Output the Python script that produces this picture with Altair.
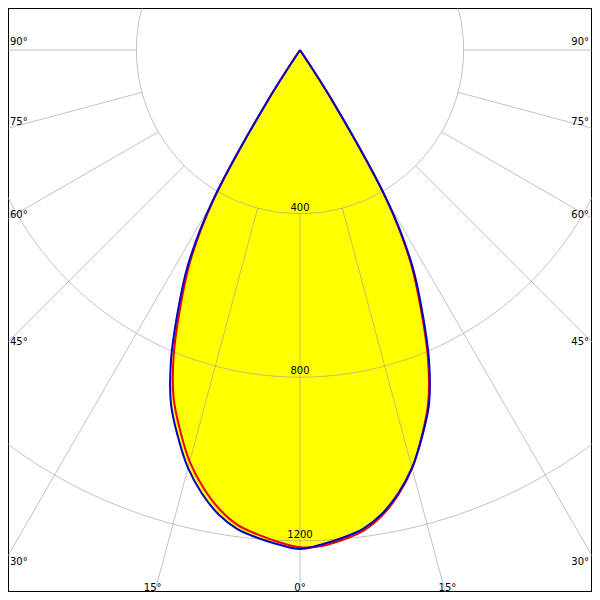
import altair as alt
import numpy as np
import pandas as pd

# ---------------- data ----------------
angles = [0, 2.5, 5, 7.5, 10, 12.5, 15, 17.5, 20, 22.5, 25, 27.5, 30, 32.5, 35,
          40, 45, 50, 55, 60, 65, 70, 75, 80, 85, 90]
# blue curve (C0 / C180), cd
blue_right = [1220, 1210, 1197, 1181, 1152, 1110, 1058, 992, 922, 825, 708, 594, 433, 152, 0,
              0, 0, 0, 0, 0, 0, 0, 0, 0, 0, 0]
blue_left = [1220, 1210, 1197, 1181, 1152, 1110, 1058, 992, 922, 825, 708, 594, 433, 152, 0,
             0, 0, 0, 0, 0, 0, 0, 0, 0, 0, 0]
# red curve (C90 / C270), cd
red_right = [1223, 1214, 1202, 1186, 1156, 1113, 1059, 990, 917, 818, 700, 586, 426, 147, 0,
             0, 0, 0, 0, 0, 0, 0, 0, 0, 0, 0]
red_left = [1216, 1204, 1189, 1171, 1139, 1095, 1042, 975, 904, 807, 692, 580, 421, 144, 0,
            0, 0, 0, 0, 0, 0, 0, 0, 0, 0, 0]

ring_values = [400, 800, 1200]
spoke_angles = [-90, -75, -60, -45, -30, -15, 0, 15, 30, 45, 60, 75, 90]
side_label_angles = [90, 75, 60, 45, 30]
bottom_label_angles = [-15, 0, 15]

# ---------------- geometry ----------------
K = 0.409              # px per cd
CX, CY = 300.0, 50.0   # pole position in picture pixels
OFF = 8.0              # page margin
W = H = 584

def px_to_x(px):
    return (px - CX) / K

def px_to_y(py):
    return -(py - CY) / K

xs = alt.Scale(domain=[px_to_x(OFF), px_to_x(OFF + W)], nice=False, zero=False)
ys = alt.Scale(domain=[px_to_y(OFF + H), px_to_y(OFF)], nice=False, zero=False)

def X(field="X"):
    return alt.X(f"{field}:Q", scale=xs, axis=None, stack=None)

def Y(field="Y"):
    return alt.Y(f"{field}:Q", scale=ys, axis=None, stack=None)

# curve rows
curve_rows = []
for series, left, right in [("blue", blue_left, blue_right), ("red", red_left, red_right)]:
    i = 0
    for a, v in reversed(list(zip(angles, left))):
        t = np.radians(a)
        curve_rows.append({"series": series, "i": i,
                           "X": -v * np.sin(t), "Y": -v * np.cos(t)})
        i += 1
    for a, v in zip(angles[1:], right[1:]):
        t = np.radians(a)
        curve_rows.append({"series": series, "i": i,
                           "X": v * np.sin(t), "Y": -v * np.cos(t)})
        i += 1
curves = pd.DataFrame(curve_rows)

# fill (union of both curves, each half to the vertical axis)
fill_layers = []
for arr, sgn in [(blue_left, -1), (blue_right, 1), (red_left, -1), (red_right, 1)]:
    rows = []
    for a, v in zip(angles, arr):
        t = np.radians(a)
        rows.append({"X": sgn * v * np.sin(t), "Y": -v * np.cos(t), "X0": 0.0})
    fill_layers.append(
        alt.Chart(pd.DataFrame(rows)).mark_area(
            orient="horizontal", color="#ffff00", opacity=1,
            interpolate="catmull-rom").encode(
            y=Y(), x=X(), x2=alt.X2("X0:Q")))

# rings
ring_rows = []
for r in ring_values:
    for j, a in enumerate(np.arange(0, 361, 2)):
        t = np.radians(a)
        ring_rows.append({"ring": r, "j": j, "X": r * np.sin(t), "Y": -r * np.cos(t)})
rings = alt.Chart(pd.DataFrame(ring_rows)).mark_line(
    color="#999999", strokeWidth=1, opacity=0.6, clip=True).encode(
    x=X(), y=Y(), detail="ring:N", order=alt.Order("j:Q"))

# spokes
spoke_rows = []
for a in spoke_angles:
    t = np.radians(a)
    r0, r1 = ring_values[0], 4000
    spoke_rows.append({"X": r0 * np.sin(t), "Y": -r0 * np.cos(t),
                       "X2": r1 * np.sin(t), "Y2": -r1 * np.cos(t)})
spokes = alt.Chart(pd.DataFrame(spoke_rows)).mark_rule(
    color="#999999", strokeWidth=1, opacity=0.6, clip=True).encode(
    x=X(), y=Y(), x2=alt.X2("X2:Q"), y2=alt.Y2("Y2:Q"))

# ring labels
ring_lab = alt.Chart(pd.DataFrame({"X": [0.0] * 3, "Y": [-r for r in ring_values],
                                   "t": [str(r) for r in ring_values]})).mark_text(
    font="DejaVu Sans", fontSize=10, color="black", align="center",
    baseline="alphabetic", dy=-3).encode(x=X(), y=Y(), text="t:N")

# angle labels
lab_rows = []
for a in side_label_angles:
    t = np.radians(a)
    yline = CY + CX * np.cos(t) / np.sin(t)
    lab_rows.append({"X": px_to_x(10), "Y": px_to_y(yline - 8), "t": f"{a}°", "al": "left"})
    lab_rows.append({"X": px_to_x(589), "Y": px_to_y(yline - 8), "t": f"{a}°", "al": "right"})
for a in bottom_label_angles:
    t = np.radians(a)
    xline = CX + (600 - CY) * np.tan(t)
    lab_rows.append({"X": px_to_x(xline), "Y": px_to_y(588), "t": f"{abs(a)}°", "al": "center"})
labs = pd.DataFrame(lab_rows)
lab_layers = []
for al in ["left", "right", "center"]:
    lab_layers.append(alt.Chart(labs[labs["al"] == al]).mark_text(
        font="DejaVu Sans", fontSize=10, color="black", align=al, baseline="middle").encode(
        x=X(), y=Y(), text="t:N"))

# curve outlines
red_line = alt.Chart(curves[curves["series"] == "red"]).mark_line(
    color="#ee0000", strokeWidth=2, strokeJoin="round", interpolate="catmull-rom").encode(
    x=X(), y=Y(), order=alt.Order("i:Q"))
blue_line = alt.Chart(curves[curves["series"] == "blue"]).mark_line(
    color="#0000cc", strokeWidth=2, strokeJoin="round", interpolate="catmull-rom").encode(
    x=X(), y=Y(), order=alt.Order("i:Q"))

chart = alt.layer(*fill_layers, rings, spokes, ring_lab, *lab_layers, red_line, blue_line).properties(
    width=W, height=H, padding=0, autosize="none",
    background="white").configure_view(stroke="black", strokeWidth=2)

chart.save("out.html", embed_options={"renderer": "svg", "actions": False})
